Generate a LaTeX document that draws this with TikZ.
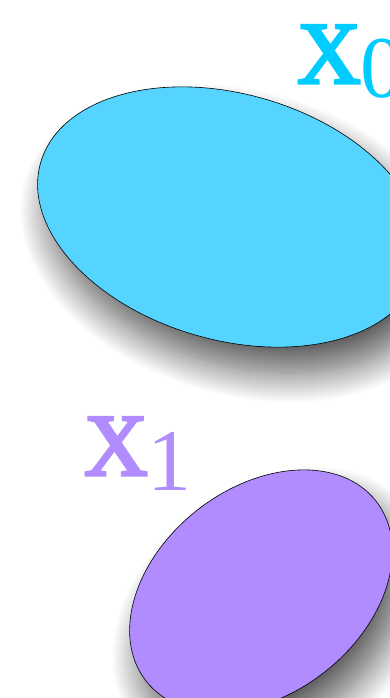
\documentclass[tikz,border=0pt]{standalone}
\usepackage{fontspec}
\setmainfont{Liberation Serif}
\newfontfamily\setnamefont{Liberation Serif}[FakeBold=3.5]
\usetikzlibrary{positioning, shapes.geometric, shadows.blur}
\definecolor{setcyan}{RGB}{85,212,255}
\definecolor{labelcyan}{RGB}{0,204,255}
\definecolor{setpurple}{RGB}{177,140,255}

\begin{document}
\begin{tikzpicture}[x=1pt, y=-1pt,
    setblob/.style={ellipse, draw=black, line width=0.6pt, inner sep=0pt,
      blur shadow={shadow xshift=12pt, shadow yshift=-26pt,
        shadow blur radius=30pt, shadow opacity=65, shadow blur steps=30}},
    setlabel/.style={font=\fontsize{88}{90}\selectfont, inner sep=0pt, anchor=base west}]
    \useasboundingbox (0,0) rectangle (390,698);
    \clip (0,0) rectangle (390,698);

    % the two sets
    \node[setblob, fill=setcyan, minimum width=394pt, minimum height=246pt,
          rotate=-16] (x0set) at (230,217) {};
    \node[setblob, fill=setpurple, minimum width=292pt, minimum height=206pt,
          rotate=38] (x1set) at (261,591) {};

    % their names
    \node[setlabel, text=labelcyan] (x0label) at (297,83) {{\setnamefont X}\raisebox{-15pt}{0}};
    \node[setlabel, text=setpurple] (x1label) at (84,475) {{\setnamefont X}\raisebox{-15pt}{1}};
  \end{tikzpicture}
\end{document}
